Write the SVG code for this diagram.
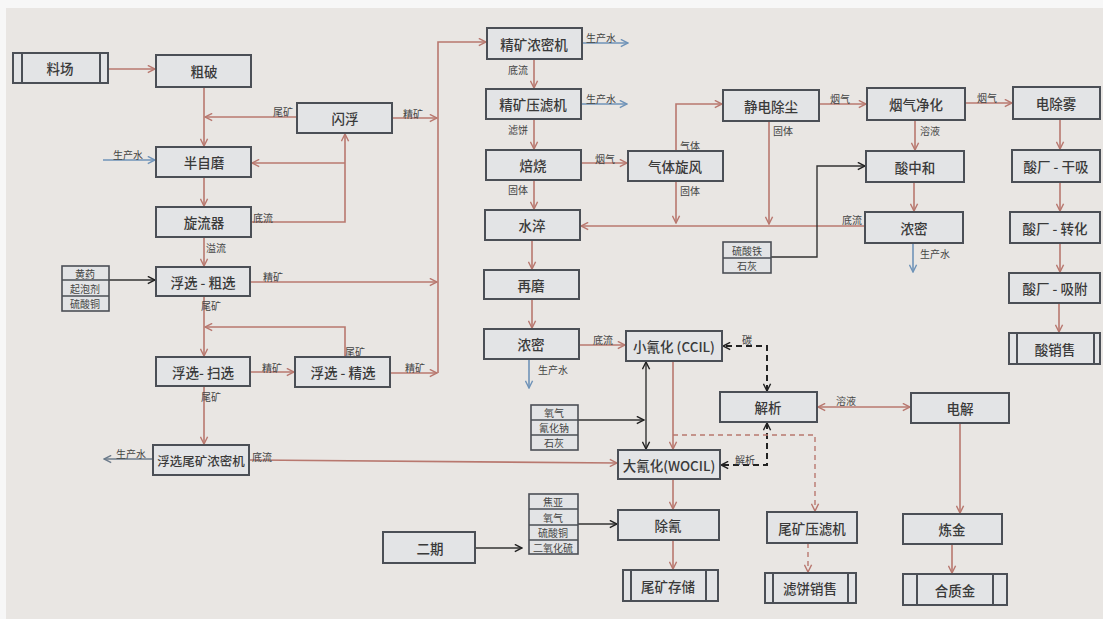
<svg xmlns="http://www.w3.org/2000/svg" width="1103" height="619" viewBox="0 0 1103 619">
<style>
.bx{fill:#e3e4e6;stroke:#4b4f56;stroke-width:2}
.rg{fill:#e3e4e6;stroke:#4b4f56;stroke-width:1.6}
.t{font-family:"Noto Sans CJK SC","Noto Sans",sans-serif;font-size:13.5px;font-weight:500;fill:#3a3a3a;text-anchor:middle;dominant-baseline:central}
.tn{font-size:12.5px}
.s{font-family:"Noto Sans CJK SC","Noto Sans",sans-serif;font-size:10px;fill:#444;text-anchor:middle;dominant-baseline:central}
.r{fill:none;stroke:#b8786f;stroke-width:1.6}
.b{fill:none;stroke:#6f93b8;stroke-width:1.6}
.k{fill:none;stroke:#333;stroke-width:1.4}
.kd{fill:none;stroke:#222;stroke-width:2;stroke-dasharray:6 4}
.rd{fill:none;stroke:#b8786f;stroke-width:1.4;stroke-dasharray:5 4}
</style>
<defs>
<marker id="ar" viewBox="0 0 10 10" refX="9" refY="5" markerWidth="9" markerHeight="9" orient="auto-start-reverse" markerUnits="userSpaceOnUse"><path d="M1,1 L9,5 L1,9" fill="none" stroke="#b8786f" stroke-width="1.6"/></marker>
<marker id="ab" viewBox="0 0 10 10" refX="9" refY="5" markerWidth="9" markerHeight="9" orient="auto-start-reverse" markerUnits="userSpaceOnUse"><path d="M1,1 L9,5 L1,9" fill="none" stroke="#6f93b8" stroke-width="1.6"/></marker>
<marker id="ag" viewBox="0 0 10 10" refX="9" refY="5" markerWidth="9" markerHeight="9" orient="auto-start-reverse" markerUnits="userSpaceOnUse"><path d="M1,1 L9,5 L1,9" fill="none" stroke="#6d7c8c" stroke-width="1.6"/></marker>
<marker id="ak" viewBox="0 0 10 10" refX="9" refY="5" markerWidth="9" markerHeight="9" orient="auto-start-reverse" markerUnits="userSpaceOnUse"><path d="M1,1 L9,5 L1,9" fill="none" stroke="#222" stroke-width="1.6"/></marker>
</defs>
<rect width="1103" height="619" fill="#f7f7f7"/>
<rect x="6" y="8" width="1097" height="611" fill="#e9e6e3"/>

<g id="connectors">
<path class="r" d="M108,69 H155" marker-end="url(#ar)"/>
<path class="r" d="M204,87 V146" marker-end="url(#ar)"/>
<path class="r" d="M297,117 H205" marker-end="url(#ar)"/>
<text class="s" x="283" y="111">尾矿</text>
<path class="r" d="M392,118 H437" marker-end="url(#ar)"/>
<text class="s" x="413" y="113">精矿</text>
<path class="b" d="M103,160 H155" marker-end="url(#ab)"/>
<text class="s" x="128" y="154">生产水</text>
<path class="r" d="M345,163 H252" marker-end="url(#ar)"/>
<path class="r" d="M251,222 H345 V134" marker-end="url(#ar)"/>
<text class="s" x="263" y="217">底流</text>
<path class="r" d="M204,177 V206" marker-end="url(#ar)"/>
<path class="r" d="M204,237 V266" marker-end="url(#ar)"/>
<text class="s" x="216" y="247">溢流</text>
<path class="k" d="M109,280 H155" marker-end="url(#ak)"/>
<path class="r" d="M250,282 H437" marker-end="url(#ar)"/>
<text class="s" x="273" y="276">精矿</text>
<path class="r" d="M204,296 V356" marker-end="url(#ar)"/>
<text class="s" x="211" y="305">尾矿</text>
<path class="r" d="M345,357 V327 H205" marker-end="url(#ar)"/>
<text class="s" x="355" y="351">尾矿</text>
<path class="r" d="M250,372 H294" marker-end="url(#ar)"/>
<text class="s" x="272" y="367">精矿</text>
<path class="r" d="M390,373 H437" marker-end="url(#ar)"/>
<text class="s" x="415" y="367">精矿</text>
<path class="r" d="M204,386 V444" marker-end="url(#ar)"/>
<text class="s" x="211" y="396">尾矿</text>
<path class="b" d="M153,459 H104" marker-end="url(#ag)" style="stroke:#6d7c8c"/>
<text class="s" x="131" y="453">生产水</text>
<path class="r" d="M249,460 L617,463" marker-end="url(#ar)"/>
<text class="s" x="262" y="456">底流</text>
<path class="r" d="M438,373 V42 H486" marker-end="url(#ar)"/>
<path class="b" d="M582,43 H628" marker-end="url(#ab)"/>
<text class="s" x="601" y="37">生产水</text>
<path class="r" d="M534,59 V88" marker-end="url(#ar)"/>
<text class="s" x="518" y="69">底流</text>
<path class="b" d="M581,104 H627" marker-end="url(#ab)"/>
<text class="s" x="601" y="98">生产水</text>
<path class="r" d="M534,119 V149" marker-end="url(#ar)"/>
<text class="s" x="518" y="129">滤饼</text>
<path class="r" d="M581,163 H627" marker-end="url(#ar)"/>
<text class="s" x="605" y="158">烟气</text>
<path class="r" d="M534,180 V209" marker-end="url(#ar)"/>
<text class="s" x="518" y="189">固体</text>
<path class="r" d="M676,151 V104 H722" marker-end="url(#ar)"/>
<text class="s" x="690" y="145">气体</text>
<path class="r" d="M676,181 V223" marker-end="url(#ar)"/>
<text class="s" x="690" y="190">固体</text>
<path class="r" d="M769,121 V224" marker-end="url(#ar)"/>
<text class="s" x="783" y="130">固体</text>
<path class="r" d="M865,226 H581" marker-end="url(#ar)"/>
<text class="s" x="852" y="219">底流</text>
<path class="r" d="M532,240 V269" marker-end="url(#ar)"/>
<path class="r" d="M532,299 V328" marker-end="url(#ar)"/>
<path class="r" d="M579,345 H625" marker-end="url(#ar)"/>
<text class="s" x="603" y="339">底流</text>
<path class="b" d="M529,359 V388" marker-end="url(#ab)"/>
<text class="s" x="553" y="369">生产水</text>
<path class="r" d="M819,104 H866" marker-end="url(#ar)"/>
<text class="s" x="840" y="98">烟气</text>
<path class="r" d="M965,103 H1012" marker-end="url(#ar)"/>
<text class="s" x="987" y="97">烟气</text>
<path class="r" d="M915,120 V150" marker-end="url(#ar)"/>
<text class="s" x="930" y="130">溶液</text>
<path class="k" d="M771,257 H817 V166 H865" marker-end="url(#ak)"/>
<path class="r" d="M914,182 V211" marker-end="url(#ar)"/>
<path class="b" d="M913,243 V272" marker-end="url(#ab)"/>
<text class="s" x="935" y="253">生产水</text>
<path class="r" d="M1060,119 V149" marker-end="url(#ar)"/>
<path class="r" d="M1060,182 V211" marker-end="url(#ar)"/>
<path class="r" d="M1060,243 V272" marker-end="url(#ar)"/>
<path class="r" d="M1059,303 V332" marker-end="url(#ar)"/>
<path class="k" d="M646,362 V449" marker-start="url(#ak)" marker-end="url(#ak)"/>
<path class="r" d="M673,361 V449" marker-end="url(#ar)"/>
<path class="k" d="M578,420 H644" marker-end="url(#ak)"/>
<path class="kd" d="M767,391 V346 H723" marker-start="url(#ak)" marker-end="url(#ak)"/>
<text class="s" x="747" y="339">碳</text>
<path class="kd" d="M767,423 V465 H721" marker-start="url(#ak)" marker-end="url(#ak)"/>
<text class="s" x="745" y="459">解析</text>
<path class="rd" d="M673,435 H815 V511" marker-end="url(#ar)"/>
<path class="rd" d="M808,543 V572" marker-end="url(#ar)"/>
<path class="r" d="M818,407 H910" marker-start="url(#ar)" marker-end="url(#ar)"/>
<text class="s" x="846" y="400">溶液</text>
<path class="r" d="M960,423 V513" marker-end="url(#ar)"/>
<path class="r" d="M952,544 V573" marker-end="url(#ar)"/>
<path class="r" d="M673,479 V509" marker-end="url(#ar)"/>
<path class="r" d="M673,540 V569" marker-end="url(#ar)"/>
<path class="k" d="M578,524 H617" marker-end="url(#ak)"/>
<path class="k" d="M475,548 H522" marker-end="url(#ak)"/>
</g>

<g id="n-liaochang"><rect class="bx" x="13" y="53" width="95" height="30"/><path d="M22,53 V83 M100,53 V83" stroke="#4b4f56" stroke-width="2"/><text class="t" x="60" y="68">料场</text></g>
<g id="n-cupo"><rect class="bx" x="156" y="55" width="95" height="32"/><text class="t" x="204" y="71">粗破</text></g>
<g id="n-shanfu"><rect class="bx" x="297" y="103" width="95" height="30"/><text class="t" x="345" y="118">闪浮</text></g>
<g id="n-banzimo"><rect class="bx" x="156" y="147" width="95" height="30"/><text class="t" x="204" y="162">半自磨</text></g>
<g id="n-xuanliuqi"><rect class="bx" x="156" y="207" width="95" height="30"/><text class="t" x="204" y="222">旋流器</text></g>
<g id="n-reagent1"><rect class="rg" x="62" y="266" width="47" height="45"/><path d="M62,280 H109 M62,296 H109" stroke="#4b4f56" stroke-width="1.4"/><text class="s" x="85" y="273">黄药</text><text class="s" x="85" y="288">起泡剂</text><text class="s" x="85" y="303">硫酸铜</text></g>
<g id="n-cuxuan"><rect class="bx" x="156" y="267" width="94" height="29"/><text class="t" x="203" y="282">浮选 - 粗选</text></g>
<g id="n-saoxuan"><rect class="bx" x="156" y="357" width="94" height="29"/><text class="t" x="203" y="372">浮选- 扫选</text></g>
<g id="n-jingxuan"><rect class="bx" x="295" y="357" width="95" height="30"/><text class="t" x="343" y="372">浮选 - 精选</text></g>
<g id="n-fxwknmj"><rect class="bx" x="153" y="445" width="96" height="30"/><text class="t tn" x="201" y="460">浮选尾矿浓密机</text></g>
<g id="n-erqi"><rect class="bx" x="383" y="532" width="92" height="31"/><text class="t" x="430" y="548">二期</text></g>
<g id="n-reagent2"><rect class="rg" x="529" y="494" width="49" height="60"/><path d="M529,509 H578 M529,525 H578 M529,540 H578" stroke="#4b4f56" stroke-width="1.4"/><text class="s" x="553" y="501">焦亚</text><text class="s" x="553" y="517">氧气</text><text class="s" x="553" y="532">硫酸铜</text><text class="s" x="553" y="547">二氧化硫</text></g>
<g id="n-chuqing"><rect class="bx" x="618" y="510" width="101" height="30"/><text class="t" x="668" y="525">除氰</text></g>
<g id="n-weikuangcunchu"><rect class="bx" x="623" y="570" width="95" height="31"/><path d="M631,570 V601 M706,570 V601" stroke="#4b4f56" stroke-width="2"/><text class="t" x="668" y="586">尾矿存储</text></g>
<g id="n-reagent3"><rect class="rg" x="531" y="405" width="47" height="45"/><path d="M531,420 H578 M531,435 H578" stroke="#4b4f56" stroke-width="1.4"/><text class="s" x="554" y="412">氧气</text><text class="s" x="554" y="427">氰化钠</text><text class="s" x="554" y="442">石灰</text></g>
<g id="n-daqinghua"><rect class="bx" x="618" y="450" width="102" height="29"/><text class="t" x="669" y="465">大氰化(WOCIL)</text></g>
<g id="n-xiaoqinghua"><rect class="bx" x="626" y="331" width="96" height="30"/><text class="t" x="674" y="346">小氰化 (CCIL)</text></g>
<g id="n-nongmi1"><rect class="bx" x="484" y="329" width="95" height="30"/><text class="t" x="531" y="344">浓密</text></g>
<g id="n-zaimo"><rect class="bx" x="484" y="270" width="95" height="29"/><text class="t" x="531" y="285">再磨</text></g>
<g id="n-shuicui"><rect class="bx" x="485" y="210" width="95" height="30"/><text class="t" x="532" y="225">水淬</text></g>
<g id="n-beishao"><rect class="bx" x="486" y="150" width="95" height="30"/><text class="t" x="533" y="165">焙烧</text></g>
<g id="n-jkylj"><rect class="bx" x="486" y="89" width="95" height="30"/><text class="t" x="533" y="104">精矿压滤机</text></g>
<g id="n-jknmj"><rect class="bx" x="487" y="28" width="95" height="31"/><text class="t" x="534" y="44">精矿浓密机</text></g>
<g id="n-qitixuanfeng"><rect class="bx" x="628" y="151" width="95" height="30"/><text class="t" x="675" y="166">气体旋风</text></g>
<g id="n-jingdian"><rect class="bx" x="723" y="90" width="96" height="31"/><text class="t" x="771" y="106">静电除尘</text></g>
<g id="n-yanqijinghua"><rect class="bx" x="867" y="88" width="98" height="32"/><text class="t" x="916" y="104">烟气净化</text></g>
<g id="n-dianchuwu"><rect class="bx" x="1013" y="87" width="87" height="32"/><text class="t" x="1056" y="103">电除雾</text></g>
<g id="n-suanzhonghe"><rect class="bx" x="866" y="151" width="98" height="31"/><text class="t" x="915" y="167">酸中和</text></g>
<g id="n-reagent4"><rect class="rg" x="723" y="242" width="48" height="31"/><path d="M723,258 H771" stroke="#4b4f56" stroke-width="1.4"/><text class="s" x="747" y="250">硫酸铁</text><text class="s" x="747" y="265">石灰</text></g>
<g id="n-nongmi2"><rect class="bx" x="865" y="212" width="98" height="31"/><text class="t" x="914" y="228">浓密</text></g>
<g id="n-ganxi"><rect class="bx" x="1012" y="150" width="88" height="32"/><text class="t" x="1056" y="166">酸厂 - 干吸</text></g>
<g id="n-zhuanhua"><rect class="bx" x="1010" y="212" width="90" height="31"/><text class="t" x="1055" y="228">酸厂 - 转化</text></g>
<g id="n-xifu"><rect class="bx" x="1009" y="273" width="91" height="30"/><text class="t" x="1055" y="288">酸厂 - 吸附</text></g>
<g id="n-suanxiaoshou"><rect class="bx" x="1009" y="333" width="91" height="31"/><path d="M1017,333 V364 M1094,333 V364" stroke="#4b4f56" stroke-width="2"/><text class="t" x="1055" y="349">酸销售</text></g>
<g id="n-jiexi"><rect class="bx" x="720" y="392" width="97" height="30"/><text class="t" x="768" y="407">解析</text></g>
<g id="n-dianjie"><rect class="bx" x="911" y="393" width="98" height="30"/><text class="t" x="960" y="408">电解</text></g>
<g id="n-lianjin"><rect class="bx" x="903" y="514" width="99" height="30"/><text class="t" x="952" y="529">炼金</text></g>
<g id="n-hezhijin"><rect class="bx" x="903" y="574" width="104" height="31"/><path d="M917,574 V605 M993,574 V605" stroke="#4b4f56" stroke-width="2"/><text class="t" x="955" y="590">合质金</text></g>
<g id="n-wkylj"><rect class="bx" x="767" y="512" width="90" height="31"/><text class="t" x="812" y="528">尾矿压滤机</text></g>
<g id="n-lbxs"><rect class="bx" x="765" y="573" width="91" height="30"/><path d="M773,573 V603 M848,573 V603" stroke="#4b4f56" stroke-width="2"/><text class="t" x="810" y="588">滤饼销售</text></g>
</svg>
